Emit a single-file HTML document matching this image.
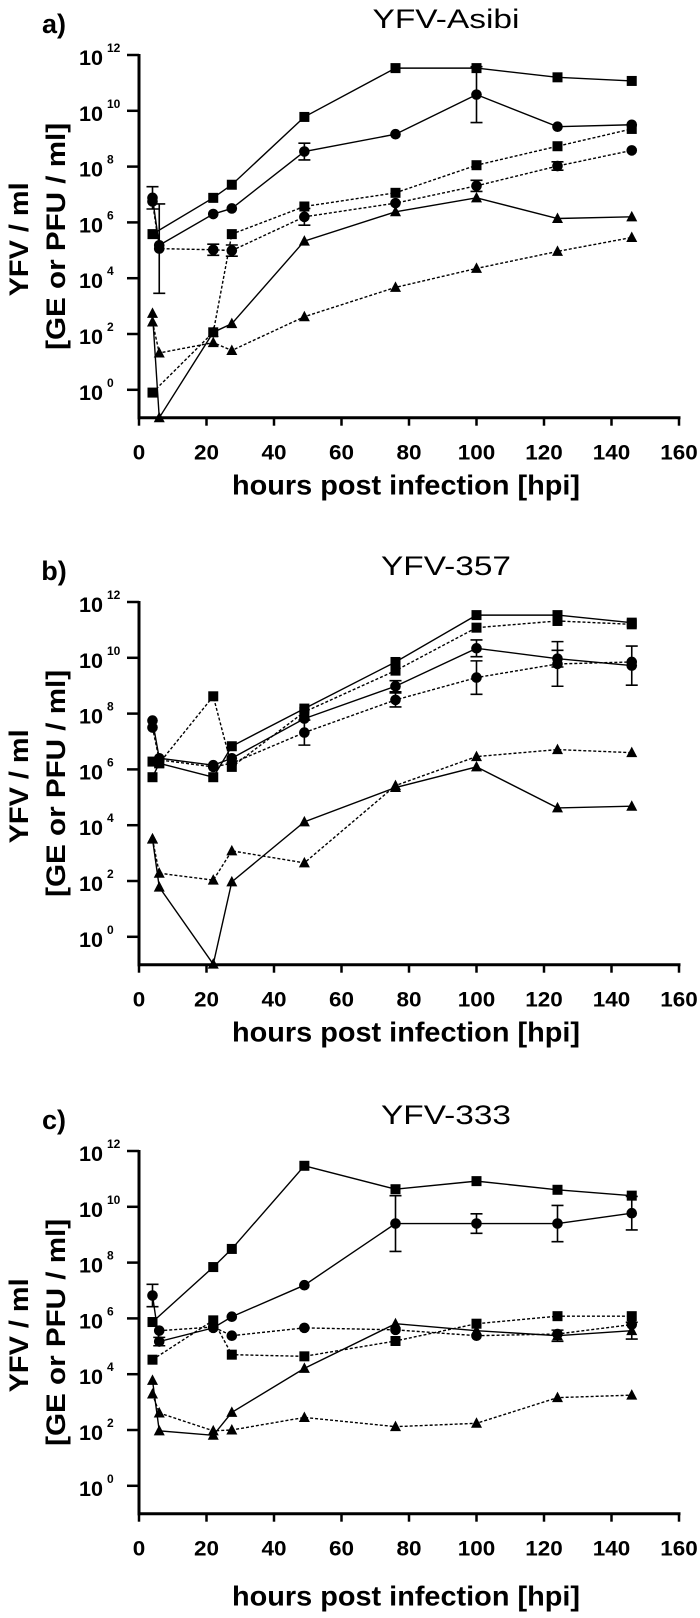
<!DOCTYPE html>
<html><head><meta charset="utf-8"><style>
html,body{margin:0;padding:0;background:#fff;}
svg{display:block;font-family:"Liberation Sans",Arial,sans-serif;}
</style></head><body>
<svg id="chart" width="700" height="1618" viewBox="0 0 700 1618" xmlns="http://www.w3.org/2000/svg"></svg>
<script>
// shared data
const hours = [4, 6, 22, 27.5, 49, 76, 100, 124, 146];
const xTicks = [0, 20, 40, 60, 80, 100, 120, 140, 160];
const yTickExps = [0, 2, 4, 6, 8, 10, 12];
const panelTitles = ["YFV-Asibi", "YFV-357", "YFV-333"];
const panelLetters = ["a)", "b)", "c)"];

// Panel a (log10 values)
const aSolidSquare = [5.58, null, 6.88, 7.35, 9.78, 11.53, 11.53, 11.2, 11.07];
const aSolidCircle = [6.88, 5.18, 6.3, 6.5, 8.54, 9.16, 10.58, 9.43, 9.5];
const aSolidTriangle = [2.74, -1.0, 2.06, 2.37, 5.33, 6.38, 6.88, 6.14, 6.2];
const aDashSquare = [-0.1, null, 2.06, 5.58, 6.57, 7.06, 8.05, 8.73, 9.35];
const aDashCircle = [6.75, 5.06, 5.02, 4.99, 6.2, 6.69, 7.31, 8.02, 8.58];
const aDashTriangle = [2.43, 1.32, 1.69, 1.41, 2.62, 3.67, 4.35, 4.96, 5.46];
const aErrCircle = [0.4, 0, 0, 0, 0.3, 0, 1.0, 0, 0];
const aErrDashCircle = [0, 1.6, 0.2, 0.2, 0.3, 0, 0.2, 0.15, 0];

// Panel b
const bSolidSquare = [5.72, 6.22, 5.72, 6.83, 8.18, 9.85, 11.53, 11.53, 11.26];
const bSolidCircle = [7.75, 6.4, 6.15, 6.4, 7.82, 8.98, 10.34, 9.97, 9.72];
const bSolidTriangle = [3.51, 1.78, -0.98, 1.97, 4.12, 5.35, 6.09, 4.62, 4.68];
const bDashSquare = [6.28, 6.22, 8.62, 6.09, 8.06, 9.54, 11.08, 11.32, 11.2];
const bDashCircle = [7.5, 6.34, 6.09, 6.22, 7.32, 8.49, 9.29, 9.78, 9.85];
const bDashTriangle = [3.5, 2.28, 2.03, 3.08, 2.65, 5.42, 6.46, 6.71, 6.6];
const bErrCircle = [0, 0, 0, 0, 0, 0.2, 0.3, 0.3, 0.7];
const bErrDashCircle = [0, 0, 0, 0, 0.45, 0.25, 0.6, 0.8, 0];

// Panel c
const cSolidSquare = [5.87, null, 7.84, 8.49, 11.47, 10.63, 10.92, 10.61, 10.4];
const cSolidCircle = [6.82, 5.17, 5.66, 6.06, 7.19, 9.4, 9.4, 9.4, 9.77];
const cSolidTriangle = [3.78, 1.97, 1.81, 2.63, 4.21, 5.81, 5.56, 5.38, 5.56];
const cDashSquare = [4.52, null, 5.93, 4.7, 4.64, 5.19, 5.81, 6.08, 6.08];
const cDashCircle = [null, 5.56, 5.69, 5.38, 5.66, 5.59, 5.38, 5.44, 5.78];
const cDashTriangle = [3.29, 2.61, 1.97, 2.0, 2.45, 2.12, 2.24, 3.16, 3.25];
const cErrCircle = [0.4, 0.15, 0, 0, 0, 1.0, 0.35, 0.65, 0.6];
const cErrTriangle = [0, 0, 0, 0, 0, 0, 0, 0.2, 0.3];

const NS = "http://www.w3.org/2000/svg";
const svg = document.getElementById("chart");
function mk(tag, attrs, parent) {
  const e = document.createElementNS(NS, tag);
  for (const k in attrs) e.setAttribute(k, attrs[k]);
  (parent || svg).appendChild(e);
  return e;
}

const X0 = 139, X1 = 679, DEC = 27.9;
const panelTops = [55, 602, 1151];

function drawPanel(p, series) {
  const T = panelTops[p];
  const B = T + 13 * DEC;
  const sx = h => X0 + (h / 160) * (X1 - X0);
  const sy = v => T + (12 - v) * DEC;
  const g = mk("g", {});
  
  

  const letter = mk("text", {x: 54, y: T - 22, "font-size": 27, "font-weight": "bold", "text-anchor": "middle"}, g);
  
  
  letter.textContent = panelLetters[p];
  const title = mk("text", {x: 446, y: T - 27, "font-size": 27, "text-anchor": "middle", textLength: p === 0 ? 147 : 130, lengthAdjust: "spacingAndGlyphs"}, g);
  
  
  title.textContent = panelTitles[p];

  // axes
  const yAxis = mk("line", {x1: X0, y1: T - 1, x2: X0, y2: B + 1.5, stroke: "#000", "stroke-width": 3}, g);
  
  
  const xAxis = mk("line", {x1: X0 - 1.5, y1: B, x2: X1 + 1.5, y2: B, stroke: "#000", "stroke-width": 3}, g);
  
  

  xTicks.forEach(t => {
    const tk = mk("line", {x1: sx(t), y1: B, x2: sx(t), y2: B + 8, stroke: "#000", "stroke-width": 2.5}, g);
    
    
    const s = String(t);
    const tl = mk("text", {x: sx(t), y: B + 42, "font-size": 21, "font-weight": "bold", "text-anchor": "middle", textLength: s.length * 12.5, lengthAdjust: "spacingAndGlyphs"}, g);
    
    
    tl.textContent = s;
  });
  yTickExps.forEach(e => {
    const y = sy(e);
    const tk = mk("line", {x1: X0 - 12, y1: y, x2: X0, y2: y, stroke: "#000", "stroke-width": 2.5}, g);
    
    
    const tl = mk("text", {x: 103, y: y + 10, "font-size": 21, "font-weight": "bold", "text-anchor": "end", textLength: 24, lengthAdjust: "spacingAndGlyphs"}, g);
    
    
    tl.textContent = "10";
    const ex = mk("text", {x: 107, y: y - 3, "font-size": 12, "font-weight": "bold"}, g);
    
    
    ex.textContent = e;
  });

  const cy = (T + B) / 2;
  const yl1 = mk("text", {x: 0, y: 0, "font-size": 27, "font-weight": "bold", "text-anchor": "middle", textLength: 114, lengthAdjust: "spacingAndGlyphs", transform: `translate(28 ${cy + 3}) rotate(-90)`}, g);
  
  
  yl1.textContent = "YFV / ml";
  const yl2 = mk("text", {x: 0, y: 0, "font-size": 27, "font-weight": "bold", "text-anchor": "middle", textLength: 227, lengthAdjust: "spacingAndGlyphs", transform: `translate(65 ${cy}) rotate(-90)`}, g);
  
  
  yl2.textContent = "[GE or PFU / ml]";
  const xt = mk("text", {x: 406, y: p === 2 ? B + 92 : B + 77, "font-size": 28, "font-weight": "bold", "text-anchor": "middle", textLength: 348, lengthAdjust: "spacingAndGlyphs"}, g);
  
  
  xt.textContent = "hours post infection [hpi]";

  series.forEach(s => {
    const pts = [];
    s.vals.forEach((v, i) => { if (v !== null) pts.push([sx(hours[i]), sy(v), i, v]); });
    const line = mk("polyline", {points: pts.map(q => q[0] + "," + q[1]).join(" "), fill: "none", stroke: "#000", "stroke-width": 1.4, "stroke-dasharray": s.dash ? "3,2" : "none"}, g);
    
    
    pts.forEach(q => {
      const [x, y, i, v] = q;
      if (s.err && s.err[i]) {
        const e = s.err[i];
        const eb = mk("path", {d: `M${x},${sy(v + e)}V${sy(v - e)}M${x - 6},${sy(v + e)}H${x + 6}M${x - 6},${sy(v - e)}H${x + 6}`, stroke: "#000", "stroke-width": 1.6, fill: "none"}, g);
        
        
      }
      let m;
      if (s.shape === "square") m = mk("rect", {x: x - 5, y: y - 5, width: 10, height: 10, fill: "#000"}, g);
      else if (s.shape === "circle") m = mk("circle", {cx: x, cy: y, r: 5.3, fill: "#000"}, g);
      else m = mk("polygon", {points: `${x},${y - 6} ${x + 5.5},${y + 4.5} ${x - 5.5},${y + 4.5}`, fill: "#000"}, g);
      
      
    });
  });
}

drawPanel(0, [
  {name: "solid-square", shape: "square", dash: false, vals: aSolidSquare},
  {name: "solid-circle", shape: "circle", dash: false, vals: aSolidCircle, err: aErrCircle},
  {name: "solid-triangle", shape: "triangle", dash: false, vals: aSolidTriangle},
  {name: "dashed-square", shape: "square", dash: true, vals: aDashSquare},
  {name: "dashed-circle", shape: "circle", dash: true, vals: aDashCircle, err: aErrDashCircle},
  {name: "dashed-triangle", shape: "triangle", dash: true, vals: aDashTriangle}
]);
drawPanel(1, [
  {name: "solid-square", shape: "square", dash: false, vals: bSolidSquare},
  {name: "solid-circle", shape: "circle", dash: false, vals: bSolidCircle, err: bErrCircle},
  {name: "solid-triangle", shape: "triangle", dash: false, vals: bSolidTriangle},
  {name: "dashed-square", shape: "square", dash: true, vals: bDashSquare},
  {name: "dashed-circle", shape: "circle", dash: true, vals: bDashCircle, err: bErrDashCircle},
  {name: "dashed-triangle", shape: "triangle", dash: true, vals: bDashTriangle}
]);
drawPanel(2, [
  {name: "solid-square", shape: "square", dash: false, vals: cSolidSquare},
  {name: "solid-circle", shape: "circle", dash: false, vals: cSolidCircle, err: cErrCircle},
  {name: "solid-triangle", shape: "triangle", dash: false, vals: cSolidTriangle, err: cErrTriangle},
  {name: "dashed-square", shape: "square", dash: true, vals: cDashSquare},
  {name: "dashed-circle", shape: "circle", dash: true, vals: cDashCircle},
  {name: "dashed-triangle", shape: "triangle", dash: true, vals: cDashTriangle}
]);
</script>
</body></html>
